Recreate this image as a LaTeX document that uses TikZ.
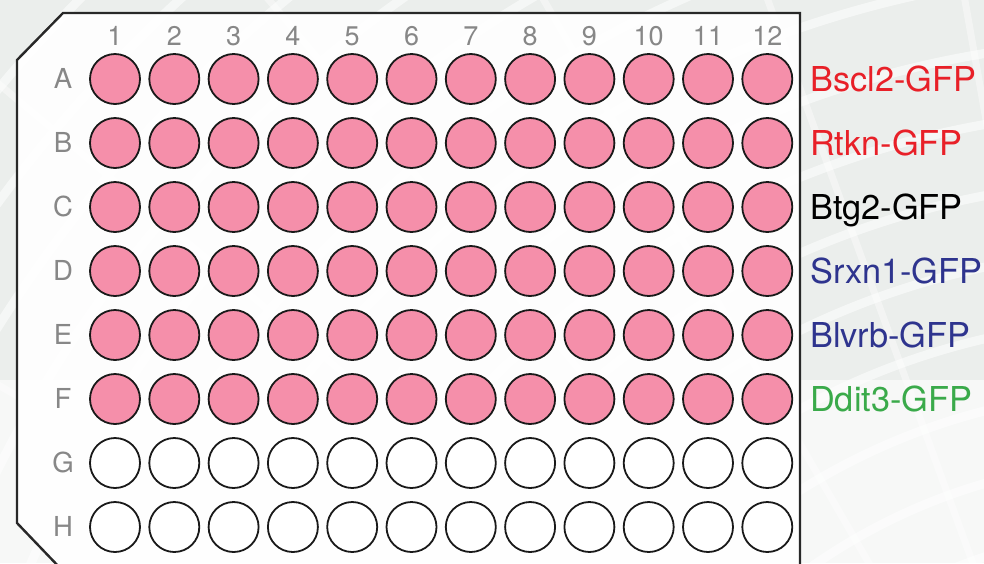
\documentclass[tikz,border=0pt]{standalone}
\usepackage{fontspec}
\setmainfont{TeX Gyre Heros}
\definecolor{bggray}{RGB}{235,238,236}
\definecolor{wellpink}{RGB}{245,143,170}
\definecolor{lblgray}{RGB}{135,135,135}
\definecolor{txtred}{RGB}{232,32,40}
\definecolor{txtblue}{RGB}{46,52,142}
\definecolor{txtgreen}{RGB}{58,170,74}
\definecolor{platecol}{RGB}{40,40,40}
\begin{document}
\begin{tikzpicture}[x=1pt,y=-1pt,
  well/.style={circle,draw=black!90,line width=1.8pt,minimum size=50pt,inner sep=0pt},
  fullwell/.style={well,fill=wellpink},
  emptywell/.style={well,fill=white},
  collbl/.style={text=lblgray,font=\fontsize{27}{27}\selectfont,anchor=base,inner sep=0pt},
  rowlbl/.style={text=lblgray,font=\fontsize{27.5}{27.5}\selectfont,anchor=base,inner sep=0pt},
  genelbl/.style={font=\fontsize{34.3}{34.3}\selectfont,anchor=base west,inner sep=0pt}]
\useasboundingbox (0,0) rectangle (984,563);
% background pattern
\fill[bggray] (0,0) rectangle (984,563);
\begin{scope}
\clip (0,0) rectangle (984,563);
\foreach \r in {520,590,...,1700}
  \draw[white,line width=9pt,opacity=0.55] (1150,1050) circle (\r);
\foreach \a in {150,160,...,270}
  \draw[white,line width=7pt,opacity=0.4] (1150,1050) -- ++(\a:1800);
\fill[white,opacity=0.6] (0,380) rectangle (984,563);
\end{scope}
% plate
\fill[white,opacity=0.92] (63,13) -- (800,13) -- (800,570) -- (62,570) -- (17,523) -- (17,60) -- cycle;
\draw[platecol,line width=2.4pt,line join=miter] (800,570) -- (800,13) -- (63,13) -- (17,60) -- (17,523) -- (62,570);
% column labels
\foreach \c in {1,...,12}
  \node[collbl] (col\c) at ({115+(\c-1)*59.3},45) {\c};
% rows
\foreach \l [count=\i] in {A,B,C,D,E,F,G,H} {
  \node[rowlbl] (row\l) at (63,{79+(\i-1)*64+9.5}) {\l};
  \foreach \c in {1,...,12} {
    \ifnum\i<7
      \node[fullwell] (w\l\c) at ({115+(\c-1)*59.3},{79+(\i-1)*64}) {};
    \else
      \node[emptywell] (w\l\c) at ({115+(\c-1)*59.3},{79+(\i-1)*64}) {};
    \fi
  }
}
% gene labels
\node[genelbl,text=txtred] (gA) at (810,91) {Bscl2-GFP};
\node[genelbl,text=txtred] (gB) at (810,155) {Rtkn-GFP};
\node[genelbl,text=black] (gC) at (810,219) {Btg2-GFP};
\node[genelbl,text=txtblue] (gD) at (810,283) {Srxn1-GFP};
\node[genelbl,text=txtblue] (gE) at (810,347) {Blvrb-GFP};
\node[genelbl,text=txtgreen] (gF) at (810,411) {Ddit3-GFP};
\end{tikzpicture}
\end{document}
